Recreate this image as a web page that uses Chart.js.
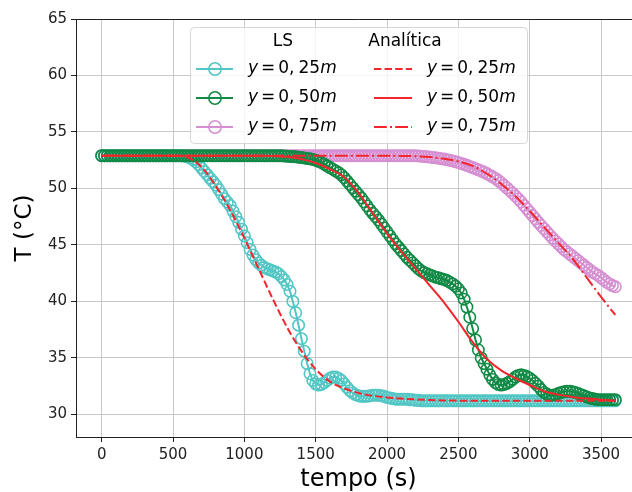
<!DOCTYPE html>
<html>
<head>
<meta charset="utf-8">
<script src="https://cdn.jsdelivr.net/npm/chart.js@4.4.1/dist/chart.umd.min.js"></script>
<style>
  html, body { margin: 0; padding: 0; background: #fff; }
  #wrap { width: 632px; height: 492px; overflow: hidden; position: relative; }
</style>
</head>
<body>
<div id="wrap"><canvas id="tempChart" width="660" height="492"></canvas></div>
<script>
// temperature profiles, LS (numerical) vs analytic solution

// axis ticks
const xTicks = [0, 500, 1000, 1500, 2000, 2500, 3000, 3500];
const yTicks = [30, 35, 40, 45, 50, 55, 60, 65];

// LS samples, every 20 s
const tLS = [
  0, 20, 40, 60, 80, 100, 120, 140, 160, 180,
  200, 220, 240, 260, 280, 300, 320, 340, 360, 380,
  400, 420, 440, 460, 480, 500, 520, 540, 560, 580,
  600, 620, 640, 660, 680, 700, 720, 740, 760, 780,
  800, 820, 840, 860, 880, 900, 920, 940, 960, 980,
  1000, 1020, 1040, 1060, 1080, 1100, 1120, 1140, 1160, 1180,
  1200, 1220, 1240, 1260, 1280, 1300, 1320, 1340, 1360, 1380,
  1400, 1420, 1440, 1460, 1480, 1500, 1520, 1540, 1560, 1580,
  1600, 1620, 1640, 1660, 1680, 1700, 1720, 1740, 1760, 1780,
  1800, 1820, 1840, 1860, 1880, 1900, 1920, 1940, 1960, 1980,
  2000, 2020, 2040, 2060, 2080, 2100, 2120, 2140, 2160, 2180,
  2200, 2220, 2240, 2260, 2280, 2300, 2320, 2340, 2360, 2380,
  2400, 2420, 2440, 2460, 2480, 2500, 2520, 2540, 2560, 2580,
  2600, 2620, 2640, 2660, 2680, 2700, 2720, 2740, 2760, 2780,
  2800, 2820, 2840, 2860, 2880, 2900, 2920, 2940, 2960, 2980,
  3000, 3020, 3040, 3060, 3080, 3100, 3120, 3140, 3160, 3180,
  3200, 3220, 3240, 3260, 3280, 3300, 3320, 3340, 3360, 3380,
  3400, 3420, 3440, 3460, 3480, 3500, 3520, 3540, 3560, 3580,
  3600
];

// y = 0,25 m
const ls025 = [
  52.9, 52.9, 52.9, 52.9, 52.9, 52.9, 52.9, 52.9, 52.9, 52.9,
  52.9, 52.9, 52.9, 52.9, 52.9, 52.9, 52.9, 52.9, 52.9, 52.9,
  52.9, 52.9, 52.9, 52.9, 52.9, 52.9, 52.9, 52.9, 52.9, 52.85,
  52.8, 52.7, 52.55, 52.35, 52.1, 51.8, 51.5, 51.2, 50.9, 50.6,
  50.3, 49.9, 49.5, 49.1, 48.8, 48.5, 48.0, 47.5, 47.0, 46.4,
  45.8, 45.2, 44.6, 44.1, 43.7, 43.4, 43.2, 43.0, 42.9, 42.8,
  42.7, 42.6, 42.45, 42.2, 41.9, 41.5, 40.9, 40.0, 39.0, 37.9,
  36.7, 35.6, 34.5, 33.6, 33.0, 32.7, 32.6, 32.65, 32.8, 33.0,
  33.2, 33.3, 33.3, 33.2, 33.0, 32.7, 32.4, 32.1, 31.9, 31.75,
  31.65, 31.6, 31.6, 31.6, 31.65, 31.7, 31.7, 31.7, 31.65, 31.6,
  31.5, 31.45, 31.4, 31.35, 31.35, 31.35, 31.35, 31.35, 31.3, 31.3,
  31.25, 31.25, 31.2, 31.2, 31.2, 31.2, 31.2, 31.2, 31.2, 31.2,
  31.2, 31.2, 31.2, 31.2, 31.2, 31.2, 31.2, 31.2, 31.2, 31.2,
  31.2, 31.2, 31.2, 31.2, 31.2, 31.2, 31.2, 31.2, 31.2, 31.2,
  31.2, 31.2, 31.2, 31.2, 31.2, 31.2, 31.2, 31.2, 31.2, 31.2,
  31.2, 31.2, 31.2, 31.2, 31.2, 31.2, 31.2, 31.2, 31.2, 31.2,
  31.2, 31.2, 31.2, 31.2, 31.2, 31.2, 31.2, 31.2, 31.2, 31.2,
  31.2, 31.2, 31.2, 31.2, 31.2, 31.2, 31.2, 31.2, 31.2, 31.2,
  31.2
];

// y = 0,50 m
const ls050 = [
  52.9, 52.9, 52.9, 52.9, 52.9, 52.9, 52.9, 52.9, 52.9, 52.9,
  52.9, 52.9, 52.9, 52.9, 52.9, 52.9, 52.9, 52.9, 52.9, 52.9,
  52.9, 52.9, 52.9, 52.9, 52.9, 52.9, 52.9, 52.9, 52.9, 52.9,
  52.9, 52.9, 52.9, 52.9, 52.9, 52.9, 52.9, 52.9, 52.9, 52.9,
  52.9, 52.9, 52.9, 52.9, 52.9, 52.9, 52.9, 52.9, 52.9, 52.9,
  52.9, 52.9, 52.9, 52.9, 52.9, 52.9, 52.9, 52.9, 52.9, 52.9,
  52.9, 52.9, 52.9, 52.9, 52.88, 52.86, 52.84, 52.82, 52.8, 52.77,
  52.74, 52.7, 52.66, 52.62, 52.57, 52.5, 52.4, 52.3, 52.15, 52.0,
  51.85, 51.7, 51.55, 51.4, 51.2, 50.95, 50.65, 50.35, 50.05, 49.75,
  49.45, 49.15, 48.8, 48.45, 48.1, 47.8, 47.5, 47.2, 46.85, 46.5,
  46.15, 45.8, 45.45, 45.1, 44.8, 44.5, 44.2, 43.9, 43.65, 43.4,
  43.15, 42.9, 42.7, 42.55, 42.45, 42.35, 42.25, 42.15, 42.1, 42.0,
  41.95, 41.85, 41.7, 41.55, 41.35, 41.1, 40.75, 40.2, 39.5, 38.6,
  37.6, 36.6, 35.7, 35.0, 34.5, 34.0, 33.5, 33.1, 32.8, 32.65,
  32.6, 32.65, 32.75, 32.9, 33.1, 33.3, 33.45, 33.5, 33.45, 33.35,
  33.2, 33.0, 32.75, 32.5, 32.2, 31.95, 31.8, 31.7, 31.7, 31.75,
  31.85, 31.95, 32.0, 32.05, 32.05, 32.0, 31.95, 31.85, 31.75, 31.65,
  31.55, 31.45, 31.4, 31.35, 31.3, 31.3, 31.3, 31.3, 31.3, 31.3,
  31.3
];

// y = 0,75 m
const ls075 = [
  52.9, 52.9, 52.9, 52.9, 52.9, 52.9, 52.9, 52.9, 52.9, 52.9,
  52.9, 52.9, 52.9, 52.9, 52.9, 52.9, 52.9, 52.9, 52.9, 52.9,
  52.9, 52.9, 52.9, 52.9, 52.9, 52.9, 52.9, 52.9, 52.9, 52.9,
  52.9, 52.9, 52.9, 52.9, 52.9, 52.9, 52.9, 52.9, 52.9, 52.9,
  52.9, 52.9, 52.9, 52.9, 52.9, 52.9, 52.9, 52.9, 52.9, 52.9,
  52.9, 52.9, 52.9, 52.9, 52.9, 52.9, 52.9, 52.9, 52.9, 52.9,
  52.9, 52.9, 52.9, 52.9, 52.9, 52.9, 52.9, 52.9, 52.9, 52.9,
  52.9, 52.9, 52.9, 52.9, 52.9, 52.9, 52.9, 52.9, 52.9, 52.9,
  52.9, 52.9, 52.9, 52.9, 52.9, 52.9, 52.9, 52.9, 52.9, 52.9,
  52.9, 52.9, 52.9, 52.9, 52.9, 52.9, 52.9, 52.9, 52.9, 52.9,
  52.9, 52.9, 52.9, 52.9, 52.9, 52.9, 52.9, 52.9, 52.9, 52.9,
  52.9, 52.88, 52.86, 52.84, 52.81, 52.78, 52.75, 52.72, 52.68, 52.64,
  52.6, 52.55, 52.5, 52.44, 52.37, 52.3, 52.22, 52.14, 52.05, 51.95,
  51.85, 51.75, 51.65, 51.55, 51.45, 51.32, 51.18, 51.03, 50.88, 50.7,
  50.5, 50.28, 50.05, 49.82, 49.58, 49.33, 49.07, 48.8, 48.5, 48.2,
  47.9, 47.6, 47.3, 47.0, 46.72, 46.44, 46.16, 45.88, 45.6, 45.35,
  45.1, 44.85, 44.6, 44.4, 44.2, 44.0, 43.8, 43.6, 43.4, 43.2,
  43.0, 42.8, 42.6, 42.45, 42.3, 42.1, 41.9, 41.7, 41.55, 41.4,
  41.3
];

// analytic solution, every 100 s
const tAn = [
  0, 100, 200, 300, 400, 500, 600, 700, 800, 900,
  1000, 1100, 1200, 1300, 1400, 1500, 1600, 1700, 1800, 1900,
  2000, 2100, 2200, 2300, 2400, 2500, 2600, 2700, 2800, 2900,
  3000, 3100, 3200, 3300, 3400, 3500, 3600
];
const an025 = [
  52.9, 52.9, 52.9, 52.9, 52.9, 52.9, 52.75, 51.9, 50.2, 48.1,
  45.6, 42.9, 40.2, 37.7, 35.6, 34.0, 32.9, 32.3, 31.9, 31.65,
  31.5, 31.4, 31.33, 31.28, 31.24, 31.22, 31.2, 31.2, 31.2, 31.2,
  31.2, 31.2, 31.2, 31.2, 31.2, 31.2, 31.2
];
const an050 = [
  52.9, 52.9, 52.9, 52.9, 52.9, 52.9, 52.9, 52.9, 52.9, 52.9,
  52.9, 52.9, 52.88, 52.8, 52.6, 52.25, 51.7, 51.0, 49.6, 47.8,
  46.0, 44.4, 42.9, 41.4, 39.9, 38.2, 36.4, 34.9, 33.9, 33.2,
  32.6, 32.05, 31.75, 31.55, 31.4, 31.3, 31.2
];
const an075 = [
  52.9, 52.9, 52.9, 52.9, 52.9, 52.9, 52.9, 52.9, 52.9, 52.9,
  52.9, 52.9, 52.9, 52.9, 52.9, 52.9, 52.9, 52.9, 52.9, 52.9,
  52.9, 52.88, 52.85, 52.78, 52.62, 52.4, 52.0, 51.3, 50.4, 49.3,
  48.0, 46.6, 45.2, 43.8, 42.1, 40.4, 38.8
];

const legendNums = ["0, 25", "0, 50", "0, 75"];

const CYAN = "#52c6c4";
const GREEN = "#108a45";
const PINK = "#d68fd2";
const RED = "#f2262c";
const FONT = "DejaVu Sans";

function pts(xs, ys) {
  return xs.map((x, i) => ({ x: x, y: ys[i] }));
}

function lsSet(label, ys, color, order) {
  return {
    label: label,
    data: pts(tLS, ys),
    borderColor: color,
    borderWidth: 2,
    pointRadius: 5.7,
    pointBorderWidth: 1.6,
    pointBorderColor: color,
    pointBackgroundColor: "rgba(0,0,0,0)",
    pointHoverRadius: 0,
    fill: false,
    order: order
  };
}

function anSet(label, ys, dash) {
  return {
    label: label,
    data: pts(tAn, ys),
    borderColor: RED,
    borderWidth: 2,
    borderDash: dash,
    pointRadius: 0,
    cubicInterpolationMode: "monotone",
    fill: false,
    order: 0
  };
}

// math style label: y = 0, 25m
function mathLabel(ctx, x, y, num) {
  ctx.fillStyle = "#000";
  ctx.textBaseline = "middle";
  ctx.textAlign = "left";
  ctx.font = "italic 17px " + FONT;
  ctx.fillText("y", x, y);
  x += ctx.measureText("y").width + 3;
  ctx.font = "17px " + FONT;
  ctx.fillText("=", x, y);
  x += ctx.measureText("=").width + 3;
  const parts = num.split(" ");
  ctx.fillText(parts[0], x, y);
  x += ctx.measureText(parts[0]).width + 4;
  ctx.fillText(parts[1], x, y);
  x += ctx.measureText(parts[1]).width;
  ctx.font = "italic 17px " + FONT;
  ctx.fillText("m", x, y);
}

const legendPlugin = {
  id: "twoColLegend",
  afterDraw(chart) {
    const ctx = chart.ctx;
    const a = chart.chartArea;
    ctx.save();

    // top spine
    ctx.strokeStyle = "#222";
    ctx.lineWidth = 1;
    ctx.beginPath();
    ctx.moveTo(a.left, Math.round(a.top) + 0.5);
    ctx.lineTo(a.right, Math.round(a.top) + 0.5);
    ctx.stroke();

    // legend box
    const bx = 190.5, by = 27.5, bw = 337, bh = 116, r = 4;
    ctx.beginPath();
    ctx.moveTo(bx + r, by);
    ctx.lineTo(bx + bw - r, by);
    ctx.arcTo(bx + bw, by, bx + bw, by + r, r);
    ctx.lineTo(bx + bw, by + bh - r);
    ctx.arcTo(bx + bw, by + bh, bx + bw - r, by + bh, r);
    ctx.lineTo(bx + r, by + bh);
    ctx.arcTo(bx, by + bh, bx, by + bh - r, r);
    ctx.lineTo(bx, by + r);
    ctx.arcTo(bx, by, bx + r, by, r);
    ctx.closePath();
    ctx.fillStyle = "rgba(255,255,255,0.8)";
    ctx.fill();
    ctx.strokeStyle = "#d6d6d6";
    ctx.stroke();

    // column titles
    ctx.fillStyle = "#000";
    ctx.font = "17px " + FONT;
    ctx.textAlign = "center";
    ctx.textBaseline = "middle";
    ctx.fillText("LS", 283, 42);
    ctx.fillText("Analítica", 405, 42);

    const rows = [69, 98, 127];
    const lsColors = [CYAN, GREEN, PINK];
    const dashes = [[7.4, 3.2], [], [12.8, 3.2, 2, 3.2]];
    rows.forEach((ry, i) => {
      // LS entry
      ctx.setLineDash([]);
      ctx.strokeStyle = lsColors[i];
      ctx.lineWidth = 2;
      ctx.beginPath();
      ctx.moveTo(196, ry);
      ctx.lineTo(233, ry);
      ctx.stroke();
      ctx.lineWidth = 1.5;
      ctx.beginPath();
      ctx.arc(215, ry, 6.2, 0, Math.PI * 2);
      ctx.stroke();
      mathLabel(ctx, 248, ry, legendNums[i]);

      // analytic entry
      ctx.strokeStyle = RED;
      ctx.lineWidth = 2;
      ctx.setLineDash(dashes[i]);
      ctx.beginPath();
      ctx.moveTo(374, ry);
      ctx.lineTo(412, ry);
      ctx.stroke();
      ctx.setLineDash([]);
      mathLabel(ctx, 427, ry, legendNums[i]);
    });
    ctx.restore();
  }
};

const ctx = document.getElementById("tempChart").getContext("2d");
const chart = new Chart(ctx, {
  type: "line",
  data: {
    datasets: [
      lsSet("LS y=0,25m", ls025, CYAN, 2),
      lsSet("LS y=0,50m", ls050, GREEN, 1),
      lsSet("LS y=0,75m", ls075, PINK, 3),
      anSet("Analítica y=0,25m", an025, [7.4, 3.2]),
      anSet("Analítica y=0,50m", an050, []),
      anSet("Analítica y=0,75m", an075, [12.8, 3.2, 2, 3.2])
    ]
  },
  options: {
    responsive: false,
    animation: false,
    devicePixelRatio: 1,
    layout: { padding: { left: 0, right: 19, top: 19, bottom: 0 } },
    plugins: {
      legend: { display: false },
      tooltip: { enabled: false }
    },
    scales: {
      x: {
        type: "linear",
        min: -180,
        max: 3780,
        afterBuildTicks: s => { s.ticks = xTicks.map(v => ({ value: v })); },
        afterFit: s => { s.height = 55; },
        grid: { color: "#c8c8c8", lineWidth: 1, tickLength: 5, tickColor: "#222" },
        border: { display: true, color: "#222", width: 1 },
        ticks: { color: "#222", font: { family: FONT, size: 15 }, padding: 4, maxRotation: 0, callback: v => String(v) },
        title: { display: true, text: "tempo (s)", color: "#000", font: { family: FONT, size: 24, lineHeight: 1.0 }, padding: { top: 0, bottom: 0 } }
      },
      y: {
        type: "linear",
        min: 28,
        max: 65,
        afterBuildTicks: s => { s.ticks = yTicks.map(v => ({ value: v })); },
        afterFit: s => { s.width = 76; },
        grid: { color: "#c8c8c8", lineWidth: 1, tickLength: 5, tickColor: "#222" },
        border: { display: true, color: "#222", width: 1 },
        ticks: { color: "#222", font: { family: FONT, size: 15 }, padding: 4, callback: v => String(v) },
        title: { display: true, text: "T (°C)", color: "#000", font: { family: FONT, size: 23 }, padding: { top: 11, bottom: 0 } }
      }
    }
  },
  plugins: [legendPlugin]
});
</script>
</body>
</html>
